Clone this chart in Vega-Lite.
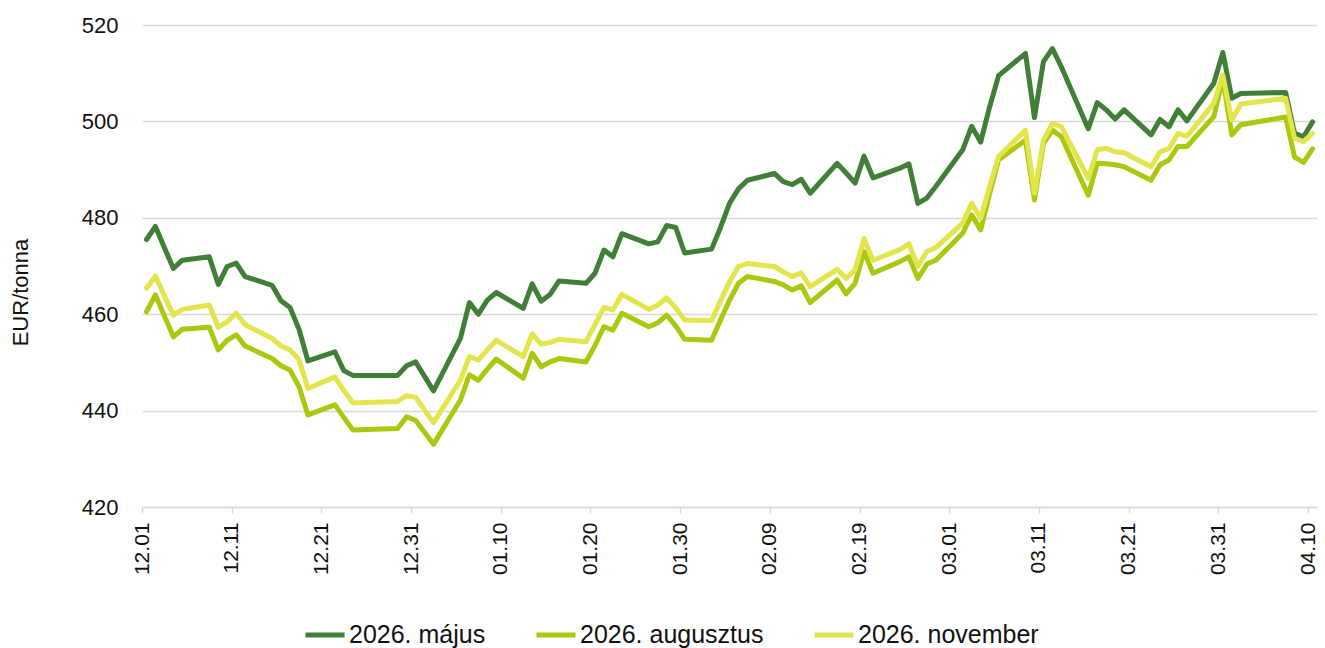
{
  "$schema": "https://vega.github.io/schema/vega-lite/v6.json",
  "width": 1175,
  "height": 482,
  "autosize": {"type": "none"},
  "padding": {"left": 142, "top": 25, "right": 8, "bottom": 141},
  "background": "white",
  "config": {"font": "Liberation Sans", "view": {"stroke": null}},
  "data": {
    "values": [
      {"date": "2025-12-01T12:00:00", "május": 475.5, "augusztus": 460.5, "november": 465.4},
      {"date": "2025-12-02T12:00:00", "május": 478.2, "augusztus": 464.0, "november": 467.9},
      {"date": "2025-12-03T12:00:00", "május": 473.8, "augusztus": 459.6, "november": 463.8},
      {"date": "2025-12-04T12:00:00", "május": 469.5, "augusztus": 455.3, "november": 459.8},
      {"date": "2025-12-05T12:00:00", "május": 471.2, "augusztus": 456.9, "november": 461.0},
      {"date": "2025-12-08T12:00:00", "május": 471.9, "augusztus": 457.3, "november": 461.9},
      {"date": "2025-12-09T12:00:00", "május": 466.2, "augusztus": 452.6, "november": 457.3},
      {"date": "2025-12-10T12:00:00", "május": 469.9, "augusztus": 454.6, "november": 458.4},
      {"date": "2025-12-11T12:00:00", "május": 470.6, "augusztus": 455.7, "november": 460.2},
      {"date": "2025-12-12T12:00:00", "május": 467.8, "augusztus": 453.4, "november": 457.8},
      {"date": "2025-12-15T12:00:00", "május": 466.0, "augusztus": 450.8, "november": 455.0},
      {"date": "2025-12-16T12:00:00", "május": 462.8, "augusztus": 449.3, "november": 453.4},
      {"date": "2025-12-17T12:00:00", "május": 461.4, "augusztus": 448.4, "november": 452.6},
      {"date": "2025-12-18T12:00:00", "május": 456.9, "augusztus": 445.0, "november": 450.6},
      {"date": "2025-12-19T12:00:00", "május": 450.3, "augusztus": 439.1, "november": 444.6},
      {"date": "2025-12-22T12:00:00", "május": 452.2, "augusztus": 441.2, "november": 447.0},
      {"date": "2025-12-23T12:00:00", "május": 448.3, "augusztus": 438.6, "november": 444.2},
      {"date": "2025-12-24T12:00:00", "május": 447.3, "augusztus": 436.0, "november": 441.6},
      {"date": "2025-12-29T12:00:00", "május": 447.3, "augusztus": 436.3, "november": 441.9},
      {"date": "2025-12-30T12:00:00", "május": 449.3, "augusztus": 438.7, "november": 443.1},
      {"date": "2025-12-31T12:00:00", "május": 450.1, "augusztus": 438.0, "november": 442.8},
      {"date": "2026-01-02T12:00:00", "május": 444.1, "augusztus": 433.0, "november": 437.5},
      {"date": "2026-01-05T12:00:00", "május": 455.0, "augusztus": 442.2, "november": 446.3},
      {"date": "2026-01-06T12:00:00", "május": 462.4, "augusztus": 447.4, "november": 451.2},
      {"date": "2026-01-07T12:00:00", "május": 460.0, "augusztus": 446.3, "november": 450.5},
      {"date": "2026-01-08T12:00:00", "május": 462.9, "augusztus": 448.6, "november": 452.6},
      {"date": "2026-01-09T12:00:00", "május": 464.5, "augusztus": 450.7, "november": 454.6},
      {"date": "2026-01-12T12:00:00", "május": 461.2, "augusztus": 446.7, "november": 451.2},
      {"date": "2026-01-13T12:00:00", "május": 466.3, "augusztus": 451.9, "november": 455.9},
      {"date": "2026-01-14T12:00:00", "május": 462.7, "augusztus": 449.1, "november": 453.8},
      {"date": "2026-01-15T12:00:00", "május": 464.1, "augusztus": 450.1, "november": 454.1},
      {"date": "2026-01-16T12:00:00", "május": 466.9, "augusztus": 450.8, "november": 454.8},
      {"date": "2026-01-19T12:00:00", "május": 466.4, "augusztus": 450.1, "november": 454.3},
      {"date": "2026-01-20T12:00:00", "május": 468.5, "augusztus": 453.5, "november": 457.8},
      {"date": "2026-01-21T12:00:00", "május": 473.3, "augusztus": 457.4, "november": 461.4},
      {"date": "2026-01-22T12:00:00", "május": 471.9, "augusztus": 456.7, "november": 460.9},
      {"date": "2026-01-23T12:00:00", "május": 476.7, "augusztus": 460.2, "november": 464.1},
      {"date": "2026-01-26T12:00:00", "május": 474.6, "augusztus": 457.4, "november": 461.0},
      {"date": "2026-01-27T12:00:00", "május": 475.0, "augusztus": 458.2, "november": 461.9},
      {"date": "2026-01-28T12:00:00", "május": 478.4, "augusztus": 459.8, "november": 463.4},
      {"date": "2026-01-29T12:00:00", "május": 478.0, "augusztus": 457.6, "november": 461.3},
      {"date": "2026-01-30T12:00:00", "május": 472.7, "augusztus": 454.8, "november": 458.8},
      {"date": "2026-02-02T12:00:00", "május": 473.5, "augusztus": 454.6, "november": 458.7},
      {"date": "2026-02-03T12:00:00", "május": 478.0, "augusztus": 458.8, "november": 462.8},
      {"date": "2026-02-04T12:00:00", "május": 483.0, "augusztus": 462.9, "november": 466.7},
      {"date": "2026-02-05T12:00:00", "május": 486.0, "augusztus": 466.4, "november": 469.9},
      {"date": "2026-02-06T12:00:00", "május": 487.8, "augusztus": 467.8, "november": 470.5},
      {"date": "2026-02-09T12:00:00", "május": 489.2, "augusztus": 466.8, "november": 469.9},
      {"date": "2026-02-10T12:00:00", "május": 487.5, "augusztus": 466.1, "november": 468.8},
      {"date": "2026-02-11T12:00:00", "május": 486.9, "augusztus": 465.0, "november": 467.8},
      {"date": "2026-02-12T12:00:00", "május": 488.0, "augusztus": 465.9, "november": 468.6},
      {"date": "2026-02-13T12:00:00", "május": 485.1, "augusztus": 462.4, "november": 465.7},
      {"date": "2026-02-16T12:00:00", "május": 491.3, "augusztus": 467.1, "november": 469.3},
      {"date": "2026-02-17T12:00:00", "május": 489.3, "augusztus": 464.2, "november": 467.4},
      {"date": "2026-02-18T12:00:00", "május": 487.2, "augusztus": 466.4, "november": 469.2},
      {"date": "2026-02-19T12:00:00", "május": 492.8, "augusztus": 473.0, "november": 475.7},
      {"date": "2026-02-20T12:00:00", "május": 488.3, "augusztus": 468.5, "november": 471.2},
      {"date": "2026-02-23T12:00:00", "május": 490.3, "augusztus": 470.9, "november": 473.4},
      {"date": "2026-02-24T12:00:00", "május": 491.2, "augusztus": 471.9, "november": 474.6},
      {"date": "2026-02-25T12:00:00", "május": 483.0, "augusztus": 467.4, "november": 469.9},
      {"date": "2026-02-26T12:00:00", "május": 484.1, "augusztus": 470.4, "november": 473.0},
      {"date": "2026-02-27T12:00:00", "május": 486.5, "augusztus": 471.2, "november": 473.8},
      {"date": "2026-03-02T12:00:00", "május": 494.1, "augusztus": 476.8, "november": 478.9},
      {"date": "2026-03-03T12:00:00", "május": 499.0, "augusztus": 480.6, "november": 483.0},
      {"date": "2026-03-04T12:00:00", "május": 495.7, "augusztus": 477.5, "november": 479.9},
      {"date": "2026-03-05T12:00:00", "május": 503.0, "augusztus": 485.0, "november": 486.5},
      {"date": "2026-03-06T12:00:00", "május": 509.5, "augusztus": 492.0, "november": 492.7},
      {"date": "2026-03-09T12:00:00", "május": 514.1, "augusztus": 496.1, "november": 498.2},
      {"date": "2026-03-10T12:00:00", "május": 500.8, "augusztus": 483.7, "november": 485.1},
      {"date": "2026-03-11T12:00:00", "május": 512.4, "augusztus": 495.4, "november": 496.1},
      {"date": "2026-03-12T12:00:00", "május": 515.1, "augusztus": 498.2, "november": 499.6},
      {"date": "2026-03-13T12:00:00", "május": 511.3, "augusztus": 496.8, "november": 498.9},
      {"date": "2026-03-16T12:00:00", "május": 498.5, "augusztus": 484.7, "november": 488.2},
      {"date": "2026-03-17T12:00:00", "május": 503.9, "augusztus": 491.3, "november": 494.1},
      {"date": "2026-03-18T12:00:00", "május": 502.4, "augusztus": 491.2, "november": 494.4},
      {"date": "2026-03-19T12:00:00", "május": 500.5, "augusztus": 491.0, "november": 493.7},
      {"date": "2026-03-20T12:00:00", "május": 502.4, "augusztus": 490.6, "november": 493.5},
      {"date": "2026-03-23T12:00:00", "május": 497.2, "augusztus": 487.8, "november": 490.6},
      {"date": "2026-03-24T12:00:00", "május": 500.4, "augusztus": 491.0, "november": 493.7},
      {"date": "2026-03-25T12:00:00", "május": 498.9, "augusztus": 492.0, "november": 494.4},
      {"date": "2026-03-26T12:00:00", "május": 502.4, "augusztus": 494.8, "november": 497.5},
      {"date": "2026-03-27T12:00:00", "május": 500.1, "augusztus": 494.8, "november": 496.9},
      {"date": "2026-03-30T12:00:00", "május": 507.9, "augusztus": 501.0, "november": 503.8},
      {"date": "2026-03-31T12:00:00", "május": 514.3, "augusztus": 508.9, "november": 509.6},
      {"date": "2026-04-01T12:00:00", "május": 504.8, "augusztus": 497.2, "november": 500.3},
      {"date": "2026-04-02T12:00:00", "május": 505.8, "augusztus": 499.3, "november": 503.6},
      {"date": "2026-04-07T12:00:00", "május": 506.0, "augusztus": 500.9, "november": 504.8},
      {"date": "2026-04-08T12:00:00", "május": 497.5, "augusztus": 492.6, "november": 496.5},
      {"date": "2026-04-09T12:00:00", "május": 496.8, "augusztus": 491.5, "november": 495.8},
      {"date": "2026-04-10T12:00:00", "május": 499.9, "augusztus": 494.3, "november": 497.5}
    ]
  },
  "transform": [{"fold": ["május", "augusztus", "november"], "as": ["series", "price"]}],
  "mark": {"type": "line", "strokeWidth": 5, "strokeJoin": "round", "strokeCap": "round"},
  "encoding": {
    "x": {
      "field": "date",
      "type": "temporal",
      "scale": {"domain": [{"year": 2025, "month": 12, "date": 1}, {"year": 2026, "month": 4, "date": 11}]},
      "axis": {
        "title": null,
        "values": [
          {"year": 2025, "month": 12, "date": 1},
          {"year": 2025, "month": 12, "date": 11},
          {"year": 2025, "month": 12, "date": 21},
          {"year": 2025, "month": 12, "date": 31},
          {"year": 2026, "month": 1, "date": 10},
          {"year": 2026, "month": 1, "date": 20},
          {"year": 2026, "month": 1, "date": 30},
          {"year": 2026, "month": 2, "date": 9},
          {"year": 2026, "month": 2, "date": 19},
          {"year": 2026, "month": 3, "date": 1},
          {"year": 2026, "month": 3, "date": 11},
          {"year": 2026, "month": 3, "date": 21},
          {"year": 2026, "month": 3, "date": 31},
          {"year": 2026, "month": 4, "date": 10}
        ],
        "format": "%m.%d",
        "labelAngle": -90,
        "labelAlign": "right",
        "labelBaseline": "middle",
        "labelPadding": 9,
        "labelFontSize": 21,
        "labelColor": "#111111",
        "labelFlush": false,
        "labelOverlap": false,
        "grid": false,
        "domainColor": "#d9d9d9",
        "domainWidth": 1.5,
        "tickColor": "#d9d9d9",
        "tickWidth": 1.5,
        "tickSize": 6
      }
    },
    "y": {
      "field": "price",
      "type": "quantitative",
      "scale": {"domain": [420, 520], "nice": false, "zero": false},
      "axis": {
        "values": [420, 440, 460, 480, 500, 520],
        "title": "EUR/tonna",
        "titleFontSize": 22,
        "titleFontWeight": "normal",
        "titleColor": "#111111",
        "titleX": -122,
        "titleY": 267,
        "titleAngle": -90,
        "titleAlign": "center",
        "titleBaseline": "middle",
        "labelFontSize": 22,
        "labelColor": "#111111",
        "labelPadding": 24,
        "domain": false,
        "ticks": false,
        "grid": true,
        "gridColor": "#d9d9d9",
        "gridWidth": 1.5
      }
    },
    "color": {
      "field": "series",
      "type": "nominal",
      "sort": ["május", "augusztus", "november"],
      "scale": {"domain": ["május", "augusztus", "november"], "range": ["#417E37", "#A9C90F", "#E3E54D"]},
      "legend": {
        "orient": "none",
        "legendX": 161,
        "legendY": 588,
        "direction": "horizontal",
        "title": null,
        "labelExpr": "'2026. ' + datum.label",
        "symbolType": "stroke",
        "symbolStrokeWidth": 5,
        "symbolSize": 1521,
        "labelFontSize": 25,
        "labelColor": "#111111",
        "labelOffset": 2,
        "columnPadding": 40,
        "labelLimit": 400
      }
    }
  }
}
